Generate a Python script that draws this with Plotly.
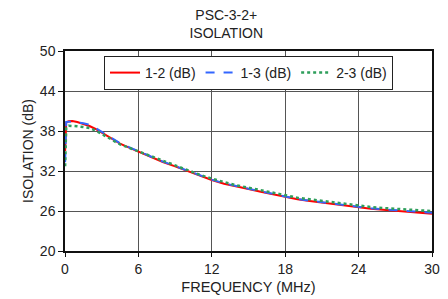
import plotly.graph_objects as go

freq = [0.01, 0.1, 0.3, 0.6, 1, 1.5, 2, 2.5, 3, 3.5, 4, 4.5, 5, 6, 7, 8, 9, 10, 11, 12,
        13, 14, 15, 16, 17, 18, 19, 20, 21, 22, 23, 24, 25, 26, 27, 28, 29, 30]

iso_12 = [35.0, 39.3, 39.45, 39.5, 39.35, 39.05, 38.75, 38.3, 37.75, 37.2, 36.65, 36.1, 35.7,
          34.9, 34.1, 33.35, 32.7, 32.0, 31.3, 30.65, 30.1, 29.65, 29.3, 28.9, 28.5, 28.05,
          27.75, 27.5, 27.25, 27.0, 26.75, 26.55, 26.35, 26.2, 26.05, 25.9, 25.75, 25.6]

iso_13 = [33.3, 39.35, 39.4, 39.4, 39.3, 39.15, 38.95, 38.45, 37.85, 37.25, 36.7, 36.15, 35.75,
          34.95, 34.15, 33.4, 32.75, 32.05, 31.35, 30.7, 30.15, 29.7, 29.35, 28.95, 28.55, 28.1,
          27.8, 27.55, 27.3, 27.05, 26.8, 26.6, 26.4, 26.25, 26.1, 25.95, 25.85, 25.75]

iso_23 = [32.7, 38.6, 38.8, 38.8, 38.7, 38.6, 38.45, 38.05, 37.6, 37.05, 36.5, 36.0, 35.65,
          34.95, 34.2, 33.45, 32.8, 32.15, 31.45, 30.85, 30.3, 29.85, 29.5, 29.1, 28.7, 28.3,
          28.0, 27.75, 27.5, 27.25, 27.0, 26.8, 26.6, 26.45, 26.3, 26.2, 26.1, 26.0]

x_ticks = [0, 6, 12, 18, 24, 30]
y_ticks = [20, 26, 32, 38, 44, 50]

fig = go.Figure()
fig.add_trace(go.Scatter(x=freq, y=iso_12, mode="lines", name="1-2 (dB)",
                         line=dict(color="#ff0000", width=2)))
fig.add_trace(go.Scatter(x=freq, y=iso_13, mode="lines", name="1-3 (dB)",
                         line=dict(color="#3366ff", width=2, dash="dash")))
fig.add_trace(go.Scatter(x=freq, y=iso_23, mode="lines", name="2-3 (dB)",
                         line=dict(color="#2e9e5b", width=2.5, dash="dot")))

font = "Liberation Sans, Arial, sans-serif"
fig.update_layout(
    width=448, height=299,
    margin=dict(l=65, r=16, t=51, b=48),
    paper_bgcolor="white", plot_bgcolor="white",
    font=dict(family=font, size=14, color="#222"),
    title=dict(text="PSC-3-2+<br>ISOLATION", x=0.505, xanchor="center",
               yref="container", y=0.933, yanchor="middle",
               font=dict(size=14, family=font, color="#222")),
    showlegend=True,
    legend=dict(orientation="h", x=0.5, xanchor="center", y=0.975, yanchor="top",
                bgcolor="white", bordercolor="#222", borderwidth=1,
                font=dict(size=14, family=font, color="#222"),
                itemwidth=30, tracegroupgap=0),
    xaxis=dict(range=[0, 30], tickvals=x_ticks, showgrid=True, gridcolor="#555", gridwidth=1,
               showline=True, linecolor="#111", linewidth=1.5, mirror=True,
               ticks="outside", ticklen=4, tickcolor="#111", zeroline=False, automargin=False,
               tickfont=dict(size=14),
               title=dict(text="FREQUENCY (MHz)", standoff=6, font=dict(size=14.5))),
    yaxis=dict(range=[20, 50], tickvals=y_ticks, showgrid=True, gridcolor="#555", gridwidth=1,
               showline=True, linecolor="#111", linewidth=1.5, mirror=True,
               ticks="outside", ticklen=5, tickcolor="#111", zeroline=False, automargin=False,
               tickfont=dict(size=14),
               title=dict(text="ISOLATION (dB)", standoff=3, font=dict(size=14))),
)

fig.write_html("out.html", config={"displayModeBar": False},
               post_script="document.body.style.margin='0';")
